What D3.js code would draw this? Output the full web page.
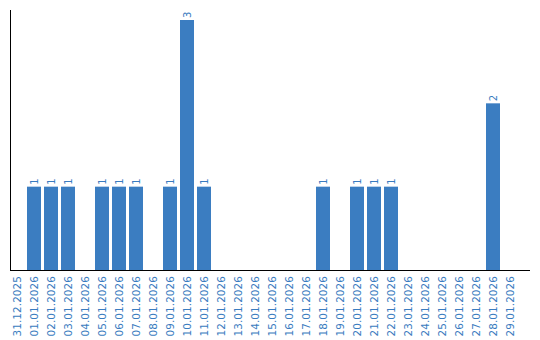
<!DOCTYPE html>
<html>
<head>
<meta charset="utf-8">
<script src="https://cdn.jsdelivr.net/npm/d3@7"></script>
<style>
  body { margin: 0; background: #fff; }
  text { font-family: "DejaVu Sans", Verdana, sans-serif; font-size: 10px; fill: #3a7cc0; }
  .tick text { font-size: 10.4px; letter-spacing: 0.1px; }
</style>
</head>
<body>
<svg width="540" height="340"></svg>
<script>
"use strict";

const dates = [
  "31.12.2025", "01.01.2026", "02.01.2026", "03.01.2026", "04.01.2026",
  "05.01.2026", "06.01.2026", "07.01.2026", "08.01.2026", "09.01.2026",
  "10.01.2026", "11.01.2026", "12.01.2026", "13.01.2026", "14.01.2026",
  "15.01.2026", "16.01.2026", "17.01.2026", "18.01.2026", "19.01.2026",
  "20.01.2026", "21.01.2026", "22.01.2026", "23.01.2026", "24.01.2026",
  "25.01.2026", "26.01.2026", "27.01.2026", "28.01.2026", "29.01.2026",
];
const counts = [
  0, 1, 1, 1, 0, 1, 1, 1, 0, 1,
  3, 1, 0, 0, 0, 0, 0, 0, 1, 0,
  1, 1, 1, 0, 0, 0, 0, 0, 2, 0,
];

window.addEventListener("load", drawGraph);

function drawGraph() {
  const svg = d3.select("svg");
  const color = "#3b7dc1";
  const left = 10, bottom = 270, top = 20, right = 530;

  const x = d3
    .scaleBand()
    .domain(dates)
    .range([left, left + dates.length * 17 - 3])
    .paddingInner(3 / 17)
    .paddingOuter(0);

  const y = d3.scaleLinear().domain([0, d3.max(counts)]).range([bottom, top]);

  const data = dates.map((d, i) => ({ date: d, count: counts[i] }));
  const shown = data.filter((d) => d.count > 0);

  svg
    .selectAll(".bar")
    .data(shown)
    .enter()
    .append("rect")
    .attr("class", "bar")
    .attr("x", (d) => x(d.date))
    .attr("y", (d) => y(d.count))
    .attr("width", x.bandwidth())
    .attr("height", (d) => bottom - y(d.count))
    .attr("fill", color);

  svg
    .selectAll(".value")
    .data(shown)
    .enter()
    .append("text")
    .attr("class", "value")
    .attr(
      "transform",
      (d) => `translate(${x(d.date) + x.bandwidth() / 2 + 4}, ${y(d.count) - 2}) rotate(-90)`
    )
    .text((d) => d.count);

  // y axis line
  svg
    .append("line")
    .attr("x1", left + 0.5)
    .attr("x2", left + 0.5)
    .attr("y1", 10)
    .attr("y2", bottom)
    .attr("stroke", "#000");

  // x axis
  const xAxis = svg
    .append("g")
    .attr("transform", `translate(0, ${bottom})`)
    .call(d3.axisBottom(x).tickSize(0).tickPadding(0));
  xAxis.select(".domain").remove();
  xAxis
    .append("line")
    .attr("x1", left)
    .attr("x2", right)
    .attr("y1", 0.5)
    .attr("y2", 0.5)
    .attr("stroke", "#000");
  xAxis
    .selectAll("text")
    .attr("font-family", null)
    .attr("font-size", null)
    .attr("fill", null)
    .attr("transform", "rotate(-90)")
    .attr("text-anchor", "end")
    .attr("x", -6)
    .attr("y", 0)
    .attr("dy", "0.35em");
}
</script>
</body>
</html>
